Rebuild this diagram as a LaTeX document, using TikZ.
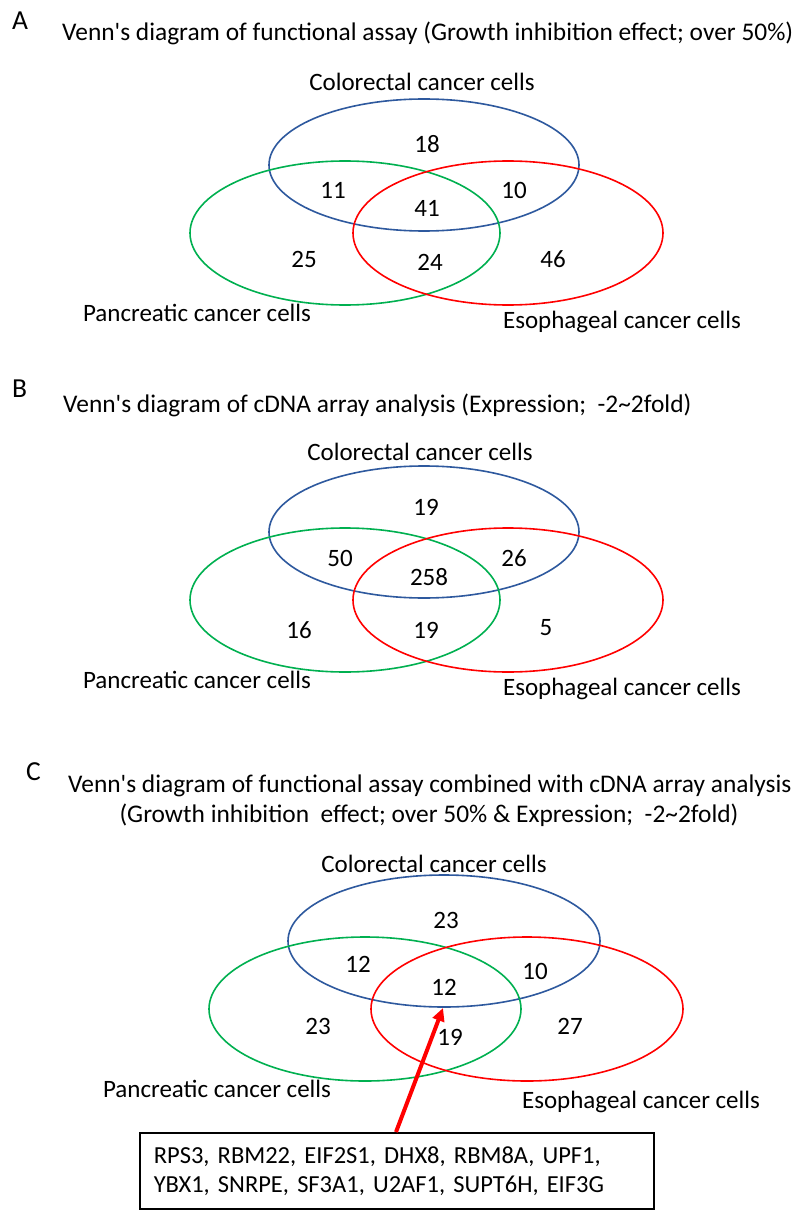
\documentclass[tikz,border=0pt]{standalone}
\usepackage{fontspec}
\setmainfont{Carlito}
\usetikzlibrary{arrows.meta}
\definecolor{vblue}{RGB}{46,89,158}
\definecolor{vgreen}{RGB}{0,176,80}
\definecolor{vred}{RGB}{255,0,0}
\tikzset{
  lbl/.style={anchor=base, inner sep=0pt, font=\fontsize{25}{30}\selectfont},
  num/.style={anchor=base, inner sep=0pt, font=\fontsize{25}{30}\selectfont},
  ttl/.style={anchor=base west, inner sep=0pt, font=\fontsize{25.4}{30}\selectfont},
  panel/.style={anchor=base west, inner sep=0pt, font=\fontsize{27.5}{30}\selectfont},
  colset/.style={draw=vblue, line width=1.6pt},
  panset/.style={draw=vgreen, line width=1.6pt},
  esoset/.style={draw=vred, line width=1.6pt},
  genebox/.style={draw=black, line width=1.6pt, anchor=north west, inner xsep=14pt, inner ysep=0pt,
    text width=486pt, minimum height=76pt, align=left, font=\fontsize{24.5}{30}\selectfont},
  redarrow/.style={draw=vred, line width=4pt, -{Triangle[length=13pt,width=12pt]}}
}
\begin{document}
\begin{tikzpicture}[x=1pt,y=-1pt]
\useasboundingbox[fill=white] (0,0) rectangle (799,1222);
% ---------------- Panel A
\node[panel] (pA) at (12,30) {A};
\node[ttl] (tA) at (62,41) {Venn\textquotesingle s diagram of functional assay (Growth inhibition effect; over 50\%)};
\path[colset] (424,165) ellipse [x radius=155pt, y radius=66pt];
\path[panset] (345,233) ellipse [x radius=155pt, y radius=72pt];
\path[esoset] (508,233) ellipse [x radius=155pt, y radius=72pt];
\node[lbl] (cA) at (422,91) {Colorectal cancer cells};
\node[lbl] (pcA) at (197,321) {Pancreatic cancer cells};
\node[lbl] (eA) at (622,328) {Esophageal cancer cells};
\node[num] (a1) at (427,153) {18};
\node[num] (a2) at (333,199) {11};
\node[num] (a3) at (514,199) {10};
\node[num] (a4) at (427,217) {41};
\node[num] (a5) at (304,268) {25};
\node[num] (a6) at (430,271) {24};
\node[num] (a7) at (553,268) {46};
% ---------------- Panel B
\node[panel] (pB) at (12,397) {B};
\node[ttl] (tB) at (63,412) {Venn\textquotesingle s diagram of cDNA array analysis (Expression;\ \ -2\textasciitilde 2fold)};
\path[colset] (424,532) ellipse [x radius=155pt, y radius=66pt];
\path[panset] (345,600) ellipse [x radius=155pt, y radius=72pt];
\path[esoset] (508,600) ellipse [x radius=155pt, y radius=72pt];
\node[lbl] (cB) at (420,460) {Colorectal cancer cells};
\node[lbl] (pcB) at (197,688) {Pancreatic cancer cells};
\node[lbl] (eB) at (622,695) {Esophageal cancer cells};
\node[num] (b1) at (426,515) {19};
\node[num] (b2) at (340,566) {50};
\node[num] (b3) at (514,566) {26};
\node[num] (b4) at (429,585) {258};
\node[num] (b5) at (299,638) {16};
\node[num] (b6) at (426,638) {19};
\node[num] (b7) at (546,635) {5};
% ---------------- Panel C
\node[panel] (pC) at (26,780) {C};
\node[ttl] (tC1) at (68,792) {Venn\textquotesingle s diagram of functional assay combined with cDNA array analysis};
\node[ttl, anchor=base] (tC2) at (429,822) {(Growth inhibition\ \ effect; over 50\% \& Expression;\ \ -2\textasciitilde 2fold)};
\path[colset] (444,941) ellipse [x radius=156pt, y radius=66pt];
\path[panset] (365,1009) ellipse [x radius=156pt, y radius=72pt];
\path[esoset] (527,1009) ellipse [x radius=156pt, y radius=72pt];
\node[lbl] (cC) at (434,872) {Colorectal cancer cells};
\node[lbl] (pcC) at (217,1097) {Pancreatic cancer cells};
\node[lbl] (eC) at (641,1108) {Esophageal cancer cells};
\node[num] (c1) at (446,928) {23};
\node[num] (c2) at (358,972) {12};
\node[num] (c3) at (535,979) {10};
\node[num] (c4) at (444,995) {12};
\node[num] (c5) at (318,1034) {23};
\node[num] (c6) at (450,1045) {19};
\node[num] (c7) at (570,1034) {27};
\node[genebox] (box) at (139,1132) {RPS3, RBM22, EIF2S1, DHX8, RBM8A, UPF1,\\[-1pt]YBX1, SNRPE, SF3A1, U2AF1, SUPT6H, EIF3G};
\path (box.north west) ++(257,0) coordinate (astart);
\coordinate (atip) at (443,1008);
\draw[redarrow] (astart) -- (atip);
\end{tikzpicture}
\end{document}
